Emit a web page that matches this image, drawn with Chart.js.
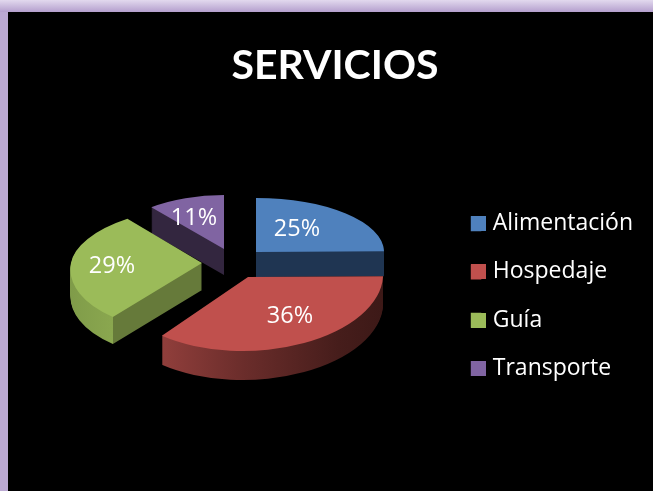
<!DOCTYPE html>
<html>
<head>
<meta charset="utf-8">
<script src="https://cdn.jsdelivr.net/npm/chart.js@4/dist/chart.umd.min.js"></script>
<style>
html,body{margin:0;padding:0;width:653px;height:491px;overflow:hidden;background:#bba9d2}
#top{position:absolute;left:0;top:0;width:653px;height:12px;background:linear-gradient(#e2d9ee,#b49fcd)}
#panel{position:absolute;left:8px;top:12px;width:645px;height:479px;background:#000}
#wrap{position:absolute;left:0;top:0;width:653px;height:491px}
</style>
</head>
<body>
<div id="top"></div><div id="panel"></div>
<div id="wrap"><canvas id="c" width="653" height="491"></canvas></div>
<script>
const chartTitle = 'SERVICIOS';
const categories = ['Alimentación', 'Hospedaje', 'Guía', 'Transporte'];
const shares = [25, 36, 29, 11];
const topColors = ['#4f81bd', '#c0504d', '#9bbb59', '#8064a2'];

// Look of the tilted, exploded pie: where each slice's tip sits, its size, and its side colours.
const tips = [[256, 252], [248, 277], [202, 263], [224, 249]];
const widths = [128, 135, 131, 115];
const backHeights = [54, 54, 57, 54];
const frontHeights = [70, 74, 68, 62];
const backShear = [0, 0, -0.186, 0];
const frontShear = [0, -0.07, -0.176, 0];
const depths = [25, 29, 27, 26];
const sides = [
  [[0, '#1f3552'], [1, '#1f3552']],
  [[0.185, '#923f3c'], [0.5, '#6b2d2b'], [0.85, '#461d1b'], [1, '#3d1917']],
  [[0, '#7f9b49'], [0.196, '#8aa74f'], [0.197, '#667a3a'], [1, '#667a3a']],
  [[0, '#33263f'], [1, '#33263f']]
];
const labelOffsets = [[41, -23], [42, 39], [-90, 3], [-30, -31]];
const drawOrder = [3, 0, 2, 1];
const labelFont = '23.5px "Open Sans"';

function paintArc(chart, arc, i, fill, shift) {
  const ctx = chart.ctx, [tx, ty] = tips[i];
  const r = arc.outerRadius, sx = widths[i] / r;
  const parts = [
    [0, ty + shift, backHeights[i] / r, backShear[i]],
    [ty + shift, chart.height, frontHeights[i] / r, frontShear[i]]
  ];
  const saved = arc.options;
  const opts = Object.create(saved);
  opts.backgroundColor = fill;
  opts.borderWidth = 0;
  arc.options = opts;
  for (const [y0, y1, sy, shear] of parts) {
    ctx.save();
    ctx.beginPath();
    ctx.rect(0, y0, chart.width, y1 - y0);
    ctx.clip();
    ctx.transform(sx, 0, shear * sy, sy, tx, ty + shift);
    ctx.translate(-arc.x, -arc.y);
    arc.draw(ctx);
    ctx.restore();
  }
  arc.options = saved;
}

const tiltedPie = {
  id: 'tiltedPie',
  beforeDatasetDraw(chart) {
    const ctx = chart.ctx;
    const arcs = chart.getDatasetMeta(0).data;
    for (const i of drawOrder) {
      const arc = arcs[i], r = arc.outerRadius;
      const g = ctx.createLinearGradient(arc.x - r, 0, arc.x + r, 0);
      sides[i].forEach(([p, c]) => g.addColorStop(p, c));
      for (let d = depths[i]; d >= 1; d--) paintArc(chart, arc, i, g, d);
      paintArc(chart, arc, i, topColors[i], 0);
    }
    ctx.save();
    ctx.fillStyle = '#fff';
    ctx.font = labelFont;
    ctx.textAlign = 'center';
    ctx.textBaseline = 'middle';
    shares.forEach((v, i) => {
      ctx.fillText(v + '%', tips[i][0] + labelOffsets[i][0], tips[i][1] + labelOffsets[i][1]);
    });
    ctx.restore();
    return false;
  },
  afterDraw(chart) {
    const ctx = chart.ctx;
    chart.legend.legendHitBoxes.forEach((b, i) => {
      const cy = b.top + b.height / 2;
      ctx.fillStyle = topColors[i];
      ctx.fillRect(Math.round(b.left), Math.round(cy - 7.5), 15, 15);
    });
  }
};

new Chart(document.getElementById('c'), {
  type: 'pie',
  data: {
    labels: categories,
    datasets: [{ data: shares, backgroundColor: topColors, borderWidth: 0 }]
  },
  plugins: [tiltedPie],
  options: {
    responsive: false,
    animation: false,
    layout: { padding: { left: 27, right: 10, top: 41, bottom: 0 } },
    plugins: {
      tooltip: { enabled: false },
      title: {
        display: true,
        text: chartTitle,
        color: '#fff',
        font: { family: 'Lato', size: 41, weight: 'bold' },
        padding: { top: 0, bottom: 11 }
      },
      legend: {
        position: 'right',
        fullSize: false,
        labels: {
          color: '#fff',
          font: { family: '"Open Sans"', size: 23 },
          boxWidth: 10.5,
          boxHeight: 15,
          padding: 25.3
        }
      }
    }
  }
});
</script>
</body>
</html>
